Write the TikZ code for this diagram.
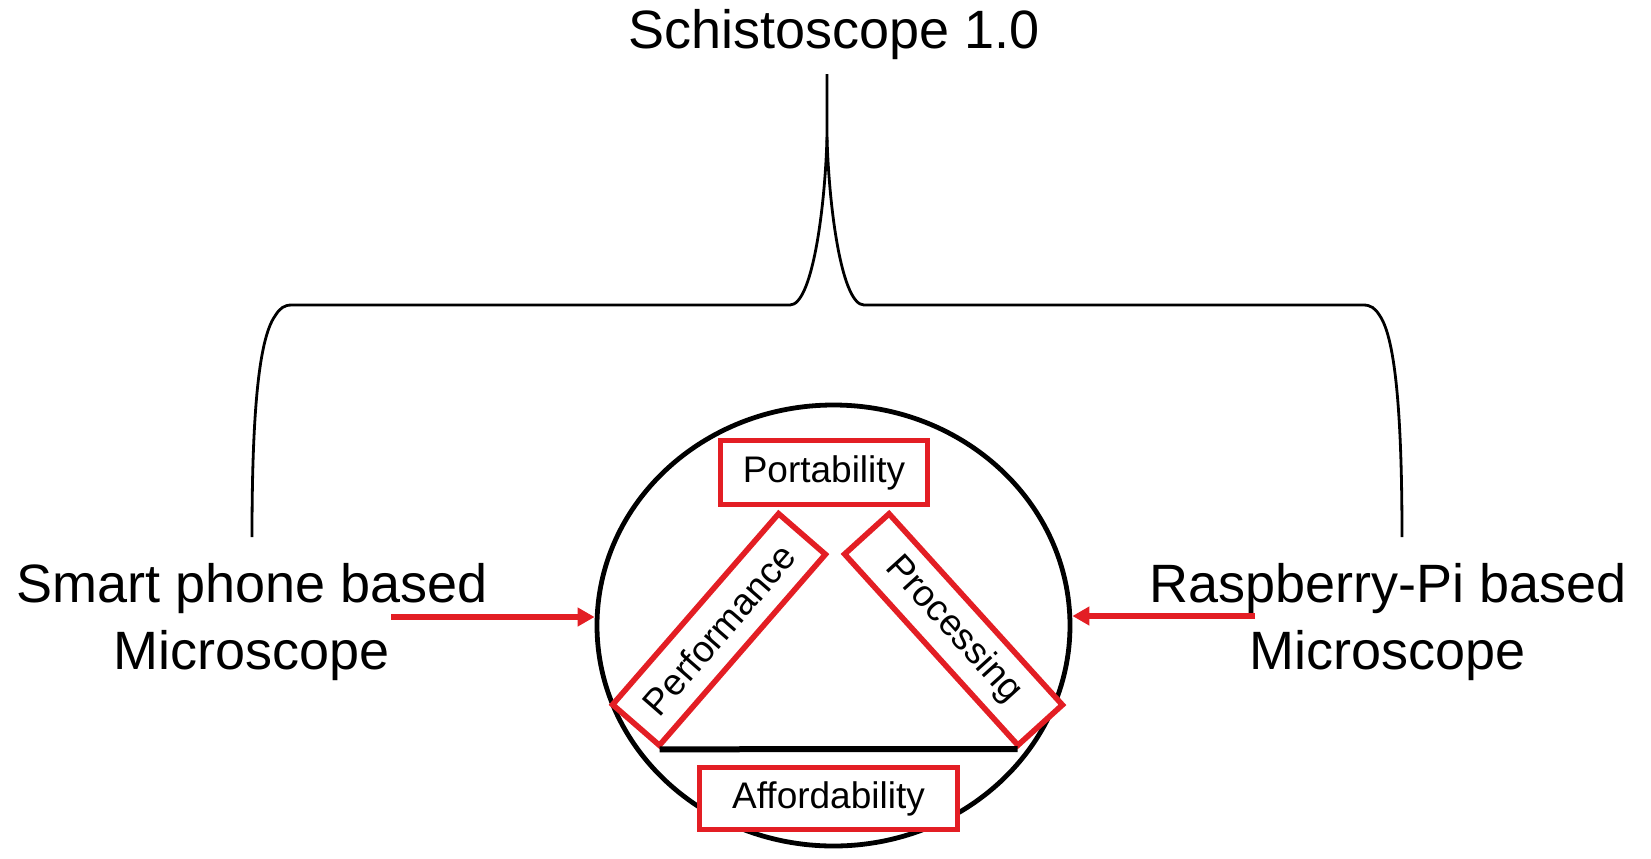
\documentclass[tikz,border=0pt]{standalone}
\usepackage{fontspec}
\setmainfont{Liberation Sans}
\usetikzlibrary{arrows.meta,shapes.geometric}
\definecolor{boxred}{RGB}{227,30,36}
\begin{document}
\begin{tikzpicture}[x=0.5pt,y=-0.5pt,
  bigtext/.style={font=\fontsize{27}{32}\selectfont, inner sep=0pt, anchor=base},
  redbox/.style={draw=boxred, fill=white, line width=2.8pt, inner sep=0pt, font=\fontsize{18.5}{22}\selectfont},
  braceline/.style={line width=1.4pt, black},
  redarrow/.style={draw=boxred, line width=3.2pt, -{Triangle[length=8.5pt,width=9pt]}},
  ring/.style={draw, ellipse, line width=2.4pt, inner sep=0pt}
]
\useasboundingbox (0,0) rectangle (1651,858);

% title and side labels
\node[bigtext] (title) at (834,48) {Schistoscope 1.0};
\node[bigtext] (sp1) at (252,602) {Smart phone based};
\node[bigtext] (sp2) at (252,669) {Microscope};
\node[bigtext] (rp1) at (1388,602) {Raspberry-Pi based};
\node[bigtext] (rp2) at (1388,669) {Microscope};

% brace
\coordinate (tip) at (827,74);
\coordinate (join) at (827,137);
\coordinate (bl) at (252,537);
\coordinate (br) at (1402,537);
\draw[braceline] (bl) .. controls (252,420) and (258,340) .. (275,316)
  .. controls (280,308) and (284,305) .. (292,305) -- (790,305)
  .. controls (812,305) and (825,210) .. (join) -- (tip);
\draw[braceline] (br) .. controls (1402,420) and (1396,340) .. (1380,316)
  .. controls (1375,308) and (1371,305) .. (1363,305) -- (864,305)
  .. controls (842,305) and (829,210) .. (join);

% circle
\node[ring, minimum width=236.5pt, minimum height=220.5pt] (circ) at (833.5,625.5) {};

% arrows
\coordinate (la) at (391,617);
\coordinate (ra) at (1255,616);
\draw[redarrow] (la) -- (la -| circ.west);
\draw[redarrow] (ra) -- (ra -| circ.east);

% boxes
\node[redbox, minimum width=103.5pt, minimum height=32pt] (port) at (824,472.5) {Portability};
\node[redbox, minimum width=126.5pt, minimum height=31pt, rotate=49] (perf) at (719,629.5) {Performance};
\node[redbox, minimum width=129pt, minimum height=30pt, rotate=-47.8] (proc) at (953.5,629.5) {Processing};
\draw[line width=3pt] (perf.south west) -- (proc.south east);
\node[redbox, minimum width=129pt, minimum height=31pt] (aff) at (828.5,798.5) {Affordability};
\end{tikzpicture}
\end{document}
